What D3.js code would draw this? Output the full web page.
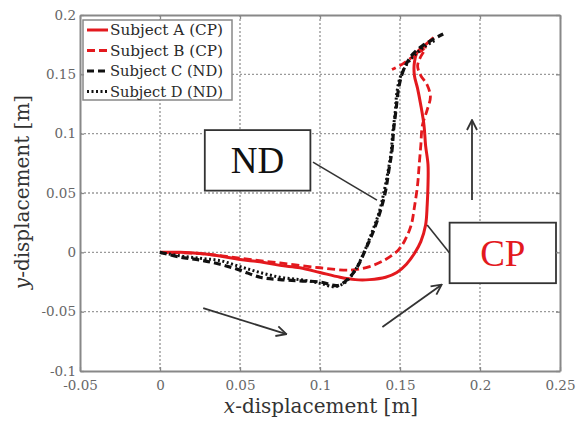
<!DOCTYPE html>
<html>
<head>
<meta charset="utf-8">
<script src="https://cdn.jsdelivr.net/npm/d3@7"></script>
<style>
  html, body { margin: 0; padding: 0; background: #fff; }
  svg { display: block; }
</style>
</head>
<body>
<svg id="chart" width="578" height="421"></svg>
<script>
// Axis ticks and labels
const xTicks = [-0.05, 0, 0.05, 0.1, 0.15, 0.2, 0.25];
const xTickLabels = ["-0.05", "0", "0.05", "0.1", "0.15", "0.2", "0.25"];
const yTicks = [-0.1, -0.05, 0, 0.05, 0.1, 0.15, 0.2];
const yTickLabels = ["-0.1", "-0.05", "0", "0.05", "0.1", "0.15", "0.2"];

// Hand trajectories [x, y] in metres
const subjectA = [
  [0, 0], [0.0125, 0.000], [0.025, -0.001], [0.0375, -0.003], [0.05, -0.006],
  [0.0625, -0.008], [0.075, -0.011], [0.0875, -0.013], [0.1, -0.017], [0.1125, -0.021],
  [0.122, -0.023], [0.131, -0.023], [0.141, -0.021], [0.148, -0.017], [0.154, -0.010],
  [0.159, -0.001], [0.163, 0.009], [0.166, 0.023], [0.167, 0.040], [0.1675, 0.057],
  [0.1675, 0.074], [0.166, 0.090], [0.165, 0.107], [0.163, 0.124], [0.161, 0.138],
  [0.159, 0.149], [0.159, 0.160], [0.161, 0.169], [0.166, 0.175], [0.171, 0.181]
];
const subjectB = [
  [0, 0], [0.025, -0.001], [0.05, -0.005], [0.075, -0.009], [0.1, -0.013],
  [0.119, -0.015], [0.131, -0.012], [0.141, -0.006], [0.149, 0.002], [0.153, 0.010],
  [0.157, 0.023], [0.159, 0.038], [0.161, 0.057], [0.162, 0.074], [0.163, 0.090],
  [0.164, 0.107], [0.167, 0.120], [0.169, 0.131], [0.167, 0.141], [0.163, 0.149],
  [0.161, 0.157], [0.163, 0.165], [0.166, 0.172], [0.159, 0.166], [0.152, 0.159],
  [0.145, 0.154]
];
const subjectC = [
  [0, 0], [0.0125, -0.004], [0.025, -0.0065], [0.0375, -0.010], [0.05, -0.015],
  [0.0625, -0.021], [0.075, -0.023], [0.0875, -0.024], [0.1, -0.025], [0.111, -0.028],
  [0.117, -0.023], [0.123, -0.013], [0.129, 0.004], [0.134, 0.020], [0.138, 0.036],
  [0.141, 0.052], [0.143, 0.069], [0.145, 0.086], [0.146, 0.103], [0.1475, 0.120],
  [0.149, 0.137], [0.151, 0.149], [0.154, 0.159], [0.158, 0.167], [0.164, 0.174],
  [0.170, 0.179], [0.177, 0.184]
];
const subjectD = [
  [0, 0], [0.0125, -0.003], [0.025, -0.005], [0.0375, -0.007], [0.05, -0.012],
  [0.0625, -0.017], [0.075, -0.021], [0.0875, -0.023], [0.1, -0.026], [0.109, -0.029],
  [0.116, -0.025], [0.122, -0.015], [0.1275, 0.000], [0.1325, 0.017], [0.137, 0.034],
  [0.14, 0.051], [0.1425, 0.068], [0.1445, 0.085], [0.1455, 0.101], [0.147, 0.118],
  [0.148, 0.134], [0.15, 0.147], [0.154, 0.158], [0.159, 0.166], [0.165, 0.173],
  [0.1725, 0.179]
];

const seriesNames = ["Subject A (CP)", "Subject B (CP)", "Subject C (ND)", "Subject D (ND)"];
const seriesData = [subjectA, subjectB, subjectC, subjectD];

// Group labels and the pointers / movement arrows (data coordinates)
const groupBoxes = [
  { label: "ND", x0: 0.028, x1: 0.094, y0: 0.103, y1: 0.052, color: "#111" },
  { label: "CP", x0: 0.181, x1: 0.2475, y0: 0.025, y1: -0.026, color: "#e3191e" }
];
const pointers = [
  [[0.0956, 0.076], [0.1356, 0.044]],
  [[0.167, 0.023], [0.181, -0.0006]]
];
const arrows = [
  [[0.027, -0.047], [0.079, -0.069]],
  [[0.139, -0.063], [0.176, -0.0273]],
  [[0.195, 0.044], [0.195, 0.1115]]
];

const styles = [
  { color: "#e3191e", width: 3, dash: null },
  { color: "#e3191e", width: 2.8, dash: "8,4" },
  { color: "#111", width: 3.2, dash: "7,4" },
  { color: "#111", width: 3, dash: "2,2.5" }
];

const svg = d3.select("#chart");
const plotLeft = 80, plotRight = 560, plotTop = 15, plotBottom = 371;
const x = d3.scaleLinear().domain([-0.05, 0.25]).range([plotLeft, plotRight]);
const y = d3.scaleLinear().domain([-0.1, 0.2]).range([plotBottom, plotTop]);

const serif = "'DejaVu Serif', 'Liberation Serif', serif";

// Dotted grid
const grid = svg.append("g");
grid.selectAll("line.gx").data(xTicks.slice(1, -1)).join("line")
  .attr("class", "gx")
  .attr("x1", d => x(d)).attr("x2", d => x(d))
  .attr("y1", plotTop).attr("y2", plotBottom)
  .attr("stroke", "#9a9a9a").attr("stroke-width", 1.4).attr("stroke-dasharray", "2,2");
grid.selectAll("line.gy").data(yTicks.slice(1, -1)).join("line")
  .attr("class", "gy")
  .attr("y1", d => y(d)).attr("y2", d => y(d))
  .attr("x1", plotLeft).attr("x2", plotRight)
  .attr("stroke", "#9a9a9a").attr("stroke-width", 1.4).attr("stroke-dasharray", "2,2");

// Trajectories
const line = d3.line().x(d => x(d[0])).y(d => y(d[1])).curve(d3.curveCatmullRom.alpha(0.5));
svg.append("g").selectAll("path").data(seriesData).join("path")
  .attr("d", d => line(d))
  .attr("fill", "none")
  .attr("stroke", (d, i) => styles[i].color)
  .attr("stroke-width", (d, i) => styles[i].width)
  .attr("stroke-dasharray", (d, i) => styles[i].dash)
  .attr("stroke-linejoin", "round");

// Arrow marker
const defs = svg.append("defs");
defs.append("marker")
  .attr("id", "vhead").attr("viewBox", "0 0 12 12")
  .attr("refX", 11).attr("refY", 6)
  .attr("markerWidth", 12).attr("markerHeight", 12)
  .attr("markerUnits", "userSpaceOnUse")
  .attr("orient", "auto")
  .append("path").attr("d", "M1,1 L11,6 L1,11")
  .attr("fill", "none").attr("stroke", "#333").attr("stroke-width", 1.8);

const ann = svg.append("g");
ann.selectAll("line.ptr").data(pointers).join("line")
  .attr("class", "ptr")
  .attr("x1", d => x(d[0][0])).attr("y1", d => y(d[0][1]))
  .attr("x2", d => x(d[1][0])).attr("y2", d => y(d[1][1]))
  .attr("stroke", "#333").attr("stroke-width", 1.6);
ann.selectAll("line.arr").data(arrows).join("line")
  .attr("class", "arr")
  .attr("x1", d => x(d[0][0])).attr("y1", d => y(d[0][1]))
  .attr("x2", d => x(d[1][0])).attr("y2", d => y(d[1][1]))
  .attr("stroke", "#333").attr("stroke-width", 1.8)
  .attr("marker-end", "url(#vhead)");

const boxes = ann.selectAll("g.box").data(groupBoxes).join("g").attr("class", "box");
boxes.append("rect")
  .attr("x", d => x(d.x0)).attr("y", d => y(d.y0))
  .attr("width", d => x(d.x1) - x(d.x0)).attr("height", d => y(d.y1) - y(d.y0))
  .attr("fill", "#fff").attr("stroke", "#333").attr("stroke-width", 1.8);
boxes.append("text")
  .attr("x", d => (x(d.x0) + x(d.x1)) / 2)
  .attr("y", d => (y(d.y0) + y(d.y1)) / 2 + 13)
  .attr("text-anchor", "middle")
  .attr("font-family", "'Liberation Serif', 'Times New Roman', serif")
  .attr("font-size", 37)
  .attr("fill", d => d.color)
  .text(d => d.label);

// Legend
const lg = svg.append("g");
lg.append("rect").attr("x", 83).attr("y", 20).attr("width", 149).attr("height", 80)
  .attr("fill", "#fff").attr("stroke", "#888").attr("stroke-width", 1.5);
const items = lg.selectAll("g.item").data(seriesNames).join("g")
  .attr("class", "item")
  .attr("transform", (d, i) => `translate(0, ${30 + i * 20.5})`);
items.append("line").attr("x1", 87).attr("x2", 108).attr("y1", 0).attr("y2", 0)
  .attr("stroke", (d, i) => styles[i].color)
  .attr("stroke-width", (d, i) => styles[i].width)
  .attr("stroke-dasharray", (d, i) => styles[i].dash);
items.append("text").attr("x", 110).attr("y", 5)
  .attr("font-family", serif).attr("font-size", 14)
  .attr("textLength", 113).attr("lengthAdjust", "spacingAndGlyphs")
  .attr("fill", "#2a2a2a")
  .text(d => d);

// Frame and axes
function styleAxis(g) {
  g.select(".domain").attr("stroke", "#888").attr("stroke-width", 2);
  g.selectAll(".tick line").attr("stroke", "#888").attr("stroke-width", 1.3);
  g.selectAll(".tick text").attr("fill", "#666").attr("font-family", serif).attr("font-size", 13.5);
}
svg.append("g").attr("transform", `translate(0,${plotBottom})`)
  .call(d3.axisBottom(x).tickValues(xTicks).tickSizeInner(-4).tickSizeOuter(0).tickPadding(9)
    .tickFormat((d, i) => xTickLabels[i]))
  .call(styleAxis);
svg.append("g").attr("transform", `translate(${plotLeft},0)`)
  .call(d3.axisLeft(y).tickValues(yTicks).tickSizeInner(-4).tickSizeOuter(0).tickPadding(4)
    .tickFormat((d, i) => yTickLabels[i]))
  .call(styleAxis);
svg.append("g").attr("transform", `translate(0,${plotTop})`)
  .call(d3.axisTop(x).tickValues(xTicks).tickSizeInner(-4).tickSizeOuter(0).tickFormat(""))
  .call(styleAxis);
svg.append("g").attr("transform", `translate(${plotRight},0)`)
  .call(d3.axisRight(y).tickValues(yTicks).tickSizeInner(-4).tickSizeOuter(0).tickFormat(""))
  .call(styleAxis);

// Axis titles
const xt = svg.append("text").attr("x", 321).attr("y", 413).attr("text-anchor", "middle")
  .attr("font-family", serif).attr("font-size", 20).attr("fill", "#333");
xt.append("tspan").attr("font-style", "italic").text("x");
xt.append("tspan").text("-displacement [m]");

const yt = svg.append("text").attr("transform", "translate(29,192) rotate(-90)")
  .attr("text-anchor", "middle")
  .attr("font-family", serif).attr("font-size", 20).attr("fill", "#333");
yt.append("tspan").attr("font-style", "italic").text("y");
yt.append("tspan").text("-displacement [m]");
</script>
</body>
</html>
